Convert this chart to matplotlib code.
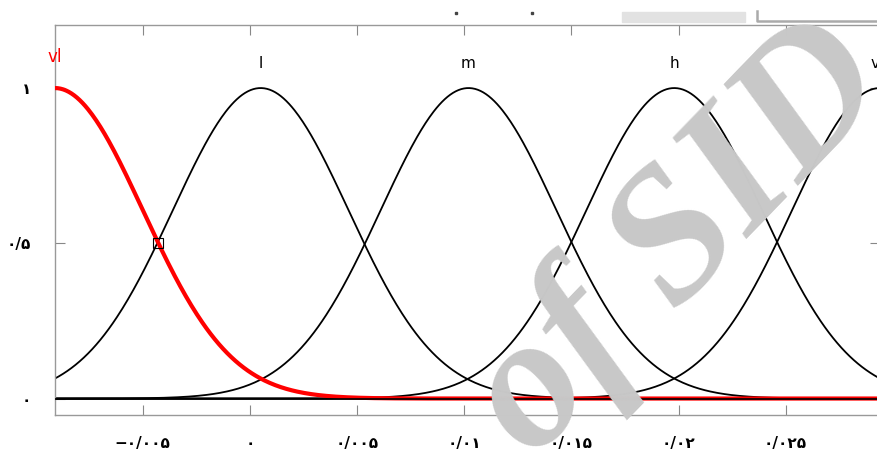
import matplotlib
matplotlib.use('Agg')
import matplotlib.pyplot as plt
from matplotlib.lines import Line2D
from matplotlib.patches import Rectangle
import numpy as np

# membership functions (gaussian)
mf_names = ['vl', 'l', 'm', 'h', 'vh']
mf_centers = [-0.0091, 0.0005, 0.0102, 0.0198, 0.0294]
mf_sigma = 0.0041
mf_colors = ['red', 'black', 'black', 'black', 'black']

marker_x = [-0.0043]
marker_y = [0.5]

x_ticks = [-0.005, 0.0, 0.005, 0.01, 0.015, 0.02, 0.025]
x_labels = ['−۰/۰۰۵', '۰', '۰/۰۰۵', '۰/۰۱', '۰/۰۱۵', '۰/۰۲', '۰/۰۲۵']
y_ticks = [0.0, 0.5, 1.0]
y_labels = ['۰', '۰/۵', '۱']

x_range = (-0.0091, 0.0294)
y_range = (-0.053, 1.203)


def gauss_mf(x, c, s):
    return np.exp(-(x - c) ** 2 / (2 * s ** 2))


def plot_fig():
    fig = plt.figure(figsize=(8.78, 4.5), dpi=100)
    ax = fig.add_axes([0.0626, 0.0778, 0.9396, 0.8666])

    # watermark behind everything
    fig.text(0.775, 0.465, 'of SID', fontsize=136, family='Liberation Serif',
             fontweight='bold', style='italic', color='#c8c8c8', rotation=46,
             ha='center', va='center', zorder=0)
    ax.patch.set_alpha(0)

    x = np.linspace(x_range[0], x_range[1], 600)
    for name, c, col in zip(mf_names, mf_centers, mf_colors):
        lw = 3.0 if col == 'red' else 1.3
        ax.plot(x, gauss_mf(x, c, mf_sigma), color=col, lw=lw, zorder=3 if col == 'red' else 2)
        ax.text(c, 1.08 if name != 'vl' else 1.1, name, color=col,
                fontsize=11 if name != 'vl' else 12,
                ha='center', va='center', family='DejaVu Sans')
    ax.axhline(0, color='black', lw=1.2, zorder=4)
    ax.plot(marker_x, marker_y, 's', ms=7, mfc='none', mec='black', mew=0.8, zorder=5)

    ax.set_xlim(*x_range)
    ax.set_ylim(*y_range)
    ax.set_xticks(x_ticks)
    ax.set_xticklabels(x_labels, fontsize=11, fontweight='bold', family='DejaVu Sans')
    ax.set_yticks(y_ticks)
    ax.set_yticklabels(y_labels, fontsize=11, fontweight='bold', family='DejaVu Sans')
    ax.tick_params(direction='in', length=7, color='#888888', top=True, right=True)
    ax.tick_params(axis='x', pad=15)
    ax.tick_params(axis='y', pad=17)
    for sp in ax.spines.values():
        sp.set_color('#999999')
        sp.set_linewidth(1.0)

    # scan artefacts along the top edge
    W, H = 878.0, 450.0
    for px in (455, 531):
        fig.patches.append(Rectangle((px / W, 1 - 14 / H), 2 / W, 2 / H,
                                     transform=fig.transFigure, color='#444444'))
    fig.patches.append(Rectangle((622 / W, 1 - 22 / H), 123 / W, 10 / H,
                                 transform=fig.transFigure, color='#e2e2e2'))
    fig.lines.append(Line2D([757 / W, 757 / W, 1.0], [1 - 11 / H, 1 - 21 / H, 1 - 21 / H],
                            transform=fig.transFigure, color='#aaaaaa', lw=1.8))

    fig.savefig('out.png', dpi=100)


def main():
    plot_fig()


if __name__ == '__main__':
    main()
